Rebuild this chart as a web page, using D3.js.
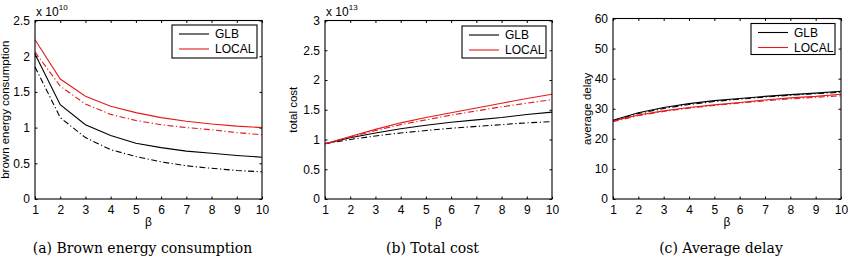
<!DOCTYPE html>
<html>
<head>
<meta charset="utf-8">
<script src="https://cdn.jsdelivr.net/npm/d3@7"></script>
<style>
  body { margin: 0; background: #fff; }
  text { font-family: "Liberation Sans", Arial, sans-serif; fill: #000; }
  .caption { font-family: "DejaVu Serif", "Liberation Serif", serif; }
</style>
</head>
<body>
<div id="chart"></div>
<script>
// beta values (x axis)
var betas = [1, 2, 3, 4, 5, 6, 7, 8, 9, 10];

// (a) brown energy consumption, x 10^10
var brownGlb       = [2.03, 1.32, 1.04, 0.89, 0.78, 0.72, 0.67, 0.64, 0.61, 0.585];
var brownGlbDash   = [1.85, 1.14, 0.86, 0.69, 0.595, 0.52, 0.465, 0.43, 0.40, 0.38];
var brownLocal     = [2.23, 1.68, 1.44, 1.30, 1.21, 1.14, 1.09, 1.05, 1.02, 1.00];
var brownLocalDash = [2.06, 1.58, 1.33, 1.185, 1.10, 1.04, 1.00, 0.97, 0.93, 0.90];

// (b) total cost, x 10^13
var costGlb       = [0.93, 1.03, 1.11, 1.18, 1.24, 1.29, 1.33, 1.37, 1.42, 1.46];
var costGlbDash   = [0.93, 1.00, 1.06, 1.11, 1.15, 1.19, 1.22, 1.25, 1.28, 1.30];
var costLocal     = [0.93, 1.05, 1.17, 1.28, 1.37, 1.45, 1.53, 1.61, 1.69, 1.76];
var costLocalDash = [0.93, 1.04, 1.15, 1.25, 1.33, 1.41, 1.48, 1.55, 1.61, 1.67];

// (c) average delay
var delayGlb       = [26.2, 28.7, 30.4, 31.7, 32.7, 33.4, 34.1, 34.7, 35.2, 35.8];
var delayGlbDash   = [26.0, 28.4, 30.1, 31.4, 32.4, 33.2, 33.9, 34.5, 35.0, 35.5];
var delayLocal     = [25.9, 27.9, 29.3, 30.4, 31.3, 32.1, 32.9, 33.6, 34.1, 34.8];
var delayLocalDash = [25.7, 27.7, 29.1, 30.2, 31.1, 31.9, 32.6, 33.3, 33.8, 34.3];

var yTicksA = [0, 0.5, 1, 1.5, 2, 2.5];
var yTicksB = [0, 0.5, 1, 1.5, 2, 2.5, 3];
var yTicksC = [0, 10, 20, 30, 40, 50, 60];
var legendNames = ["GLB", "LOCAL"];

var RED = "#e41a1c";
var DASHDOT = "6,2.5,1.2,2.5";
var FS = "12px";

var svg = d3.select("#chart").append("svg")
    .attr("width", 848)
    .attr("height", 260);

var panels = [
    {left: 35, right: 262, top: 20.5, bottom: 199, yMax: 2.5, yTicks: yTicksA, exp: "10",
     ylabel: "brown energy consumption", ylabelX: 9, caption: "(a)  Brown energy consumption",
     series: [[brownGlb, "#000", null], [brownGlbDash, "#000", DASHDOT], [brownLocal, RED, null], [brownLocalDash, RED, DASHDOT]],
     legend: {x: 172, y: 25, w: 85, h: 33}},
    {left: 325, right: 552, top: 20.5, bottom: 199, yMax: 3, yTicks: yTicksB, exp: "13",
     ylabel: "total cost", ylabelX: 297, caption: "(b)  Total cost",
     series: [[costGlb, "#000", null], [costGlbDash, "#000", DASHDOT], [costLocal, RED, null], [costLocalDash, RED, DASHDOT]],
     legend: {x: 462, y: 26, w: 84, h: 32}},
    {left: 613, right: 841, top: 18.5, bottom: 199, yMax: 60, yTicks: yTicksC, exp: null,
     ylabel: "average delay", ylabelX: 591, caption: "(c)  Average delay",
     series: [[delayGlbDash, "#000", DASHDOT], [delayGlb, "#000", null], [delayLocalDash, RED, DASHDOT], [delayLocal, RED, null]],
     legend: {x: 751, y: 23.5, w: 84, h: 31}}
];

panels.forEach(function(p) {
    var x = d3.scaleLinear().domain([1, 10]).range([p.left, p.right]);
    var y = d3.scaleLinear().domain([0, p.yMax]).range([p.bottom, p.top]);
    var g = svg.append("g");
    var tk = 2.5;

    // ticks on all four sides, pointing inwards (matlab style)
    g.append("g").attr("transform", "translate(0," + p.bottom + ")")
        .call(d3.axisBottom(x).tickValues(betas).tickSize(-tk).tickPadding(6).tickFormat(d3.format("d")))
        .call(function(a) { a.select(".domain").remove(); });
    g.append("g").attr("transform", "translate(0," + p.top + ")")
        .call(d3.axisTop(x).tickValues(betas).tickSize(-tk).tickFormat(""))
        .call(function(a) { a.select(".domain").remove(); });
    g.append("g").attr("transform", "translate(" + p.left + ",0)")
        .call(d3.axisLeft(y).tickValues(p.yTicks).tickSize(-tk).tickPadding(5).tickFormat(function(d) { return d; }))
        .call(function(a) { a.select(".domain").remove(); });
    g.append("g").attr("transform", "translate(" + p.right + ",0)")
        .call(d3.axisRight(y).tickValues(p.yTicks).tickSize(-tk).tickFormat(""))
        .call(function(a) { a.select(".domain").remove(); });
    g.selectAll(".tick text").style("font-size", FS).style("font-family", "Liberation Sans, Arial, sans-serif").attr("fill", "#000");
    g.selectAll(".tick line").attr("stroke", "#000");

    var line = d3.line()
        .x(function(d, i) { return x(betas[i]); })
        .y(function(d) { return y(d); });

    p.series.forEach(function(s) {
        g.append("path")
            .attr("d", line(s[0]))
            .attr("fill", "none")
            .attr("stroke", s[1])
            .attr("stroke-width", 1.1)
            .attr("stroke-dasharray", s[2]);
    });

    // axes box
    g.append("rect")
        .attr("x", p.left).attr("y", p.top)
        .attr("width", p.right - p.left).attr("height", p.bottom - p.top)
        .attr("fill", "none").attr("stroke", "#000").attr("stroke-width", 1.1);

    // exponent
    if (p.exp) {
        var ex = g.append("text").attr("x", p.left + 1).attr("y", 16).style("font-size", FS);
        ex.append("tspan").text("x 10");
        ex.append("tspan").attr("dy", -6).style("font-size", "8px").text(p.exp);
    }

    // legend
    var L = p.legend;
    var lg = g.append("g");
    lg.append("rect").attr("x", L.x).attr("y", L.y).attr("width", L.w).attr("height", L.h)
        .attr("fill", "#fff").attr("stroke", "#000").attr("stroke-width", 1.1);
    legendNames.forEach(function(name, i) {
        var ly = L.y + 9 + i * 15;
        lg.append("line").attr("x1", L.x + 7).attr("x2", L.x + 37).attr("y1", ly).attr("y2", ly)
            .attr("stroke", i === 0 ? "#000" : RED).attr("stroke-width", 1.1);
        lg.append("text").attr("x", L.x + 43).attr("y", ly + 4).style("font-size", FS).text(name);
    });

    // axis labels
    var cx = (p.left + p.right) / 2;
    g.append("text").attr("x", cx).attr("y", 226).attr("text-anchor", "middle")
        .style("font-size", FS).text("β");
    g.append("text")
        .attr("transform", "translate(" + p.ylabelX + "," + ((p.top + p.bottom) / 2) + ") rotate(-90)")
        .attr("text-anchor", "middle").style("font-size", "11.5px").text(p.ylabel);

    g.append("text").attr("class", "caption").attr("x", cx - 6).attr("y", 253)
        .attr("text-anchor", "middle").style("font-size", "14px").text(p.caption);
});
</script>
</body>
</html>
